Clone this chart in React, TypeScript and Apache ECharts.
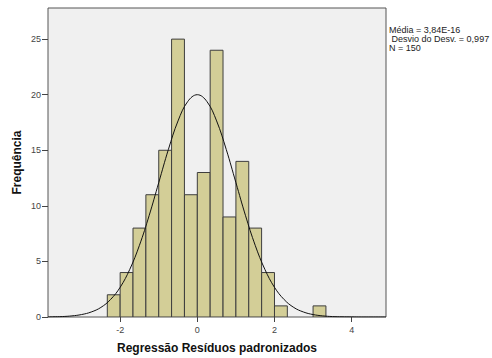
import React, { useEffect, useRef } from "react";
import * as echarts from "echarts";

// Histogram bins (left edge of each bin) and counts
const binWidth = 0.333;
const binStarts = [-2.333, -2, -1.667, -1.333, -1, -0.667, -0.333, 0, 0.333, 0.667, 1, 1.333, 1.667, 2, 3];
const binCounts = [2, 4, 8, 11, 15, 25, 11, 13, 24, 9, 14, 8, 4, 1, 1];

// Normal curve points
const curveX = [-3.87, -3.75, -3.5, -3.25, -3, -2.75, -2.5, -2.25, -2, -1.75, -1.5, -1.25, -1, -0.75, -0.5, -0.25, 0, 0.25, 0.5, 0.75, 1, 1.25, 1.5, 1.75, 2, 2.25, 2.5, 2.75, 3, 3.25, 3.5, 3.75, 4, 4.25, 4.5, 4.89];
const curveY = [0.01, 0.02, 0.04, 0.1, 0.22, 0.45, 0.86, 1.57, 2.67, 4.29, 6.45, 9.11, 12.09, 15.07, 17.64, 19.38, 20, 19.38, 17.64, 15.07, 12.09, 9.11, 6.45, 4.29, 2.67, 1.57, 0.86, 0.45, 0.22, 0.1, 0.04, 0.02, 0.01, 0, 0, 0];

const xTicks = [-2, 0, 2, 4];
const yTicks = [0, 5, 10, 15, 20, 25];

const xTitle = "Regressão Resíduos padronizados";
const yTitle = "Frequência";
const statsLines = ["Média = 3,84E-16", " Desvio do Desv. = 0,997", "N = 150"];

const FONT = "'Liberation Sans', Arial, sans-serif";

export default function App() {
  const ref = useRef<HTMLDivElement>(null);
  useEffect(() => {
    if (!ref.current) return;
    const chart = echarts.init(ref.current, null, { renderer: "svg" });
    const histData = binStarts.map((s, i) => [s, s + binWidth, binCounts[i]]);
    const curveData = curveX.map((x, i) => [x, curveY[i]]);
    chart.setOption({
      animation: false,
      backgroundColor: "#ffffff",
      grid: {
        left: 48,
        top: 8,
        right: 106,
        bottom: 41,
        containLabel: false,
        outerBoundsMode: "none",
        show: true,
        backgroundColor: "#f0f0f0",
        borderColor: "#555555",
        borderWidth: 1,
      },
      xAxis: {
        type: "value",
        min: -3.87,
        max: 4.89,
        axisLine: { show: false, onZero: false },
        splitLine: { show: false },
        axisTick: { show: true, length: 5, customValues: xTicks, lineStyle: { color: "#444" } },
        axisLabel: { customValues: xTicks, margin: 8, fontSize: 9, color: "#444", fontFamily: FONT },
      },
      yAxis: {
        type: "value",
        min: 0,
        max: 27.8,
        axisLine: { show: false, onZero: false },
        splitLine: { show: false },
        axisTick: { show: true, length: 6, customValues: yTicks, lineStyle: { color: "#444" } },
        axisLabel: { customValues: yTicks, margin: 7, fontSize: 9, color: "#444", fontFamily: FONT },
      },
      series: [
        {
          type: "custom",
          data: histData,
          clip: true,
          encode: { x: [0, 1], y: 2 },
          renderItem: (params: any, api: any) => {
            const p0 = api.coord([api.value(0), api.value(2)]);
            const p1 = api.coord([api.value(1), 0]);
            return {
              type: "rect",
              shape: { x: p0[0], y: p0[1], width: p1[0] - p0[0], height: p1[1] - p0[1] },
              style: { fill: "#d3ce97", stroke: "#3e3e3e", lineWidth: 1 },
            };
          },
        },
        {
          type: "line",
          data: curveData,
          smooth: 0.4,
          showSymbol: false,
          symbol: "none",
          lineStyle: { color: "#111", width: 1 },
          clip: true,
        },
      ],
      graphic: [
        {
          type: "text",
          x: 217,
          y: 348,
          style: { text: xTitle, font: `bold 12px ${FONT}`, fill: "#111", align: "center", verticalAlign: "middle" },
        },
        {
          type: "text",
          x: 17,
          y: 162.5,
          rotation: Math.PI / 2,
          style: { text: yTitle, font: `bold 12px ${FONT}`, fill: "#111", align: "center", verticalAlign: "middle" },
        },
        {
          type: "text",
          x: 389,
          y: 25,
          style: { text: statsLines.join("\n"), font: `9px ${FONT}`, lineHeight: 9, fill: "#222", align: "left", verticalAlign: "top" },
        },
      ],
    });
    return () => chart.dispose();
  }, []);
  return <div ref={ref} style={{ position: "absolute", left: 0, top: 0, width: 492, height: 358 }} />;
}
